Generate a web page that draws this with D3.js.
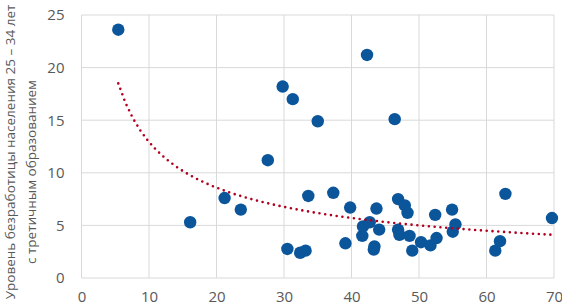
<!DOCTYPE html>
<html>
<head>
<meta charset="utf-8">
<script src="https://cdn.jsdelivr.net/npm/d3@7"></script>
<style>
  body { margin: 0; background: #fff; }
  svg { display: block; }
  text { font-family: "Open Sans", "Noto Sans", sans-serif; fill: #595959; }
</style>
</head>
<body>
<svg id="chart" width="562" height="306"></svg>
<script>
// share of tertiary educated (x) vs unemployment 25-34 (y)
const shareX = [5.45, 16.1, 21.2, 23.6, 27.6, 29.8, 30.5, 31.3, 32.4, 33.2, 33.6, 35.0, 37.3, 39.1,
  39.8, 41.6, 41.7, 42.3, 42.7, 43.3, 43.4, 43.7, 44.1, 46.4, 46.9, 46.9, 47.1, 47.9, 48.3, 48.6,
  49.0, 50.3, 51.7, 52.4, 52.6, 54.9, 55.0, 55.4, 61.3, 62.0, 62.8, 69.7];
const unemploymentY = [23.6, 5.3, 7.6, 6.5, 11.2, 18.2, 2.76, 17.0, 2.4, 2.6, 7.8, 14.9, 8.1, 3.3,
  6.7, 4.0, 4.9, 21.2, 5.3, 2.7, 3.0, 6.6, 4.6, 15.1, 7.5, 4.6, 4.1, 6.9, 6.2, 4.0,
  2.6, 3.4, 3.1, 6.0, 3.8, 6.5, 4.4, 5.1, 2.6, 3.5, 8.0, 5.7];
const xTicks = [0, 10, 20, 30, 40, 50, 60, 70];
const yTicks = [0, 5, 10, 15, 20, 25];
// power trendline y = a * x^b
const trendA = 50.3;
const trendB = -0.59;
const yTitle = ["Уровень безработицы населения 25 – 34 лет", "с третичным образованием"];

const svg = d3.select("#chart");

let x = d3.scaleLinear().domain([0, 70]).range([81.5, 554]);
let y = d3.scaleLinear().domain([0, 25]).range([278, 15]);

// grid
svg.append("g")
  .selectAll("line")
  .data(xTicks)
  .join("line")
  .attr("x1", d => x(d)).attr("x2", d => x(d))
  .attr("y1", y(0)).attr("y2", y(25))
  .attr("stroke", "#d9d9d9").attr("stroke-width", 1);

svg.append("g")
  .selectAll("line")
  .data(yTicks)
  .join("line")
  .attr("x1", x(0)).attr("x2", x(70))
  .attr("y1", d => y(d)).attr("y2", d => y(d))
  .attr("stroke", "#d9d9d9").attr("stroke-width", 1);

// axes labels
svg.append("g").attr("transform", "translate(0,291)")
  .call(d3.axisBottom(x).tickValues(xTicks).tickSize(0).tickPadding(0))
  .call(g => g.select(".domain").remove())
  .selectAll("text").attr("font-size", 15).attr("fill", "#595959");

svg.append("g").attr("transform", "translate(" + (x(0) - 17) + ",0)")
  .call(d3.axisLeft(y).tickValues(yTicks).tickSize(0).tickPadding(0))
  .call(g => g.select(".domain").remove())
  .selectAll("text").attr("font-size", 15).attr("fill", "#595959");

// y title
svg.append("text")
  .attr("transform", "translate(15,152) rotate(-90)")
  .attr("text-anchor", "middle")
  .attr("font-size", 13.5)
  .text(yTitle[0]);
svg.append("text")
  .attr("transform", "translate(36,172) rotate(-90)")
  .attr("text-anchor", "middle")
  .attr("font-size", 13.5)
  .text(yTitle[1]);

// points
svg.append("g")
  .selectAll("circle")
  .data(shareX.map((v, i) => [v, unemploymentY[i]]))
  .join("circle")
  .attr("cx", d => x(d[0]))
  .attr("cy", d => y(d[1]))
  .attr("r", 6.2)
  .attr("fill", "#0b559b");

// trendline
const ext = d3.extent(shareX);
const trendPts = d3.range(0, 61).map(i => {
  const xv = ext[0] + (ext[1] - ext[0]) * i / 60;
  return [xv, trendA * Math.pow(xv, trendB)];
});
svg.append("path")
  .datum(trendPts)
  .attr("fill", "none")
  .attr("stroke", "#b0001e")
  .attr("stroke-width", 2.6)
  .attr("stroke-linecap", "round")
  .attr("stroke-dasharray", "0 5.8")
  .attr("d", d3.line().x(d => x(d[0])).y(d => y(d[1])));
</script>
</body>
</html>
